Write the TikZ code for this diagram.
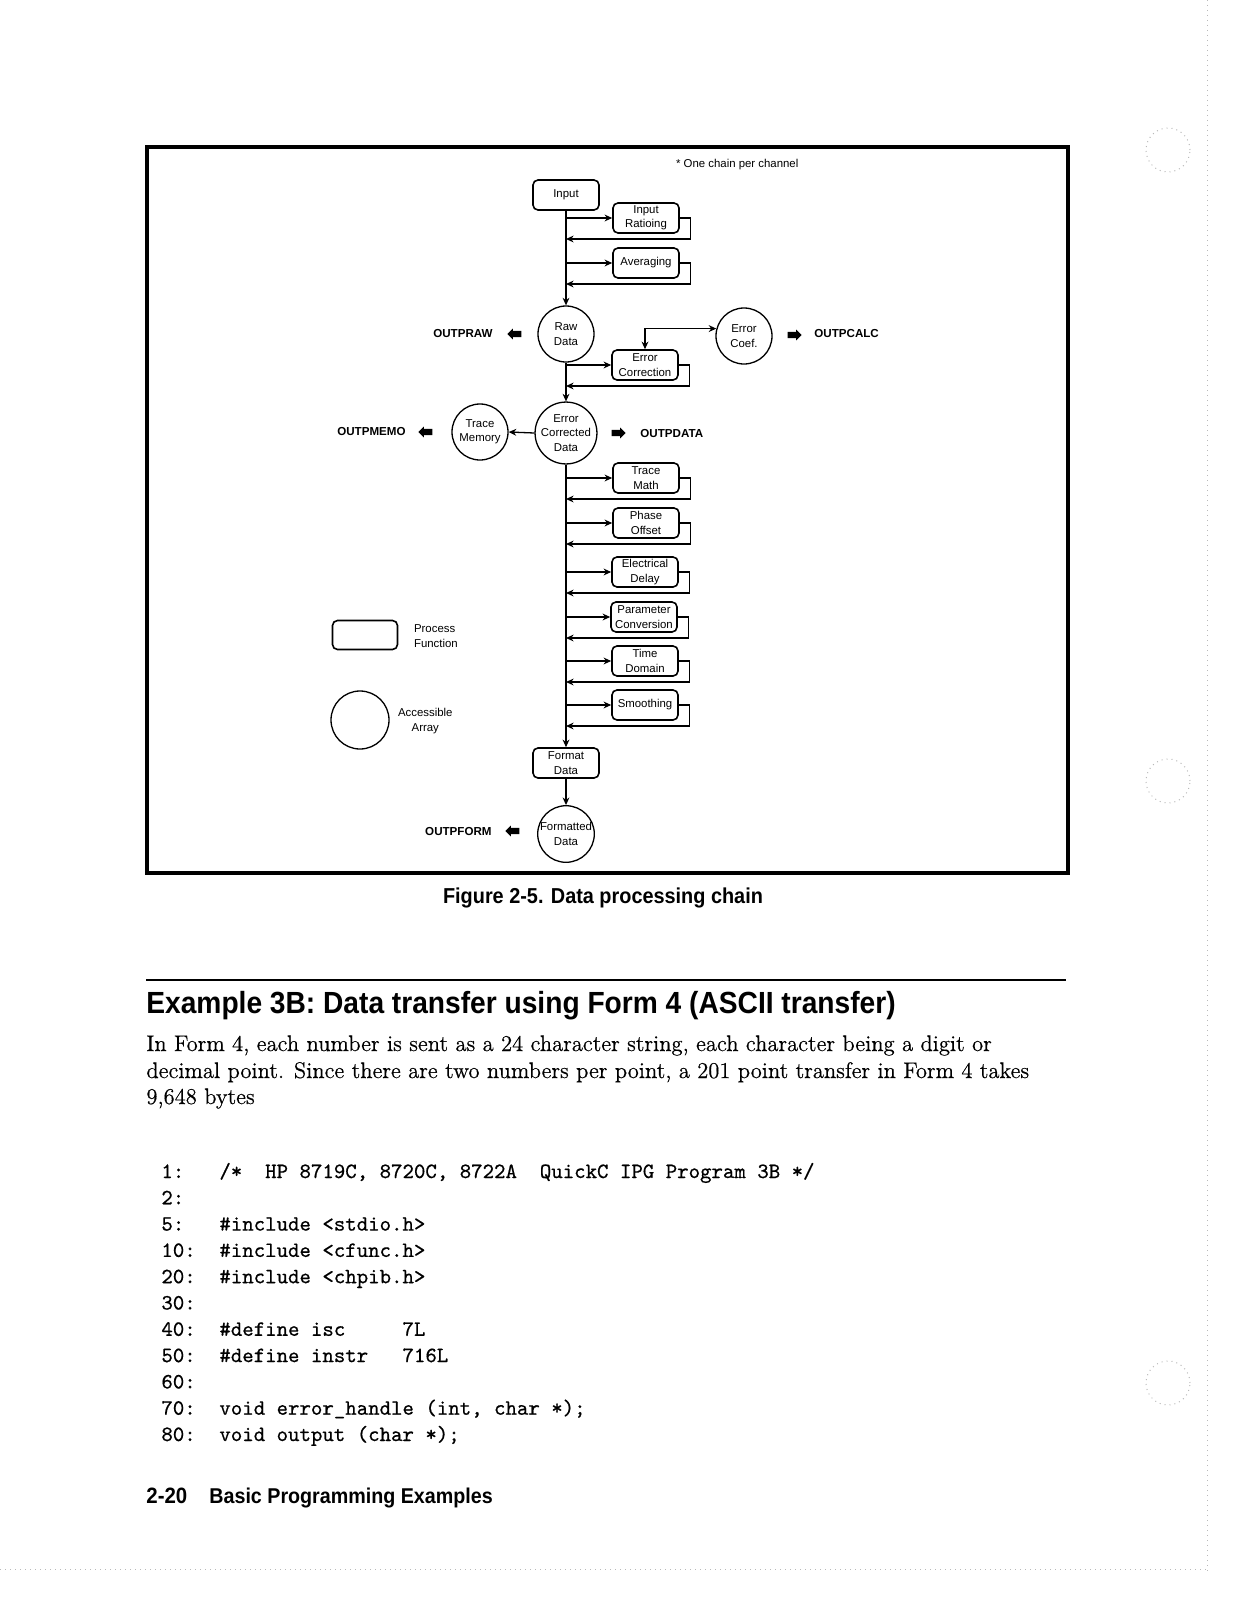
\documentclass[tikz,border=0pt]{standalone}
\usepackage{fontspec}
\newfontfamily\arial{Liberation Sans}
\newfontfamily\arialc[FakeStretch=0.92]{Liberation Sans}
\newfontfamily\romdark[FakeBold=0.5]{Latin Modern Roman}
\newfontfamily\ttdark[FakeBold=0.6]{Latin Modern Mono}
\usetikzlibrary{shapes.arrows,arrows.meta}
\begin{document}
\begin{tikzpicture}[x=0.5pt,y=-0.5pt,
  lab/.style={font=\arial\fontsize{5.7}{7.2}\selectfont, align=center},
  proc/.style={draw, rounded corners=2.5pt, minimum width=33pt, minimum height=15pt, inner sep=0pt, line width=0.8pt, lab},
  acc/.style={draw, circle, minimum size=28pt, inner sep=0pt, line width=0.65pt, lab},
  flow/.style={-{Stealth[length=3.8pt,width=3.4pt]}, line width=0.65pt},
  flowtwo/.style={{Stealth[length=3.8pt,width=3.4pt]}-{Stealth[length=3.8pt,width=3.4pt]}, line width=0.65pt},
  outl/.style={font=\arial\bfseries\fontsize{5.8}{7}\selectfont, inner sep=0pt},
  blk/.style={single arrow, fill=black, draw=none, minimum height=7pt, inner xsep=0pt, inner ysep=1.4pt, single arrow head extend=1.1pt},
  blkl/.style={blk, shape border rotate=180},
  scan/.style={gray!55, dotted, line width=0.5pt},
  codel/.style={anchor=base west, inner sep=0pt, font=\ttdark\fontsize{10.9}{13}\selectfont},
  para/.style={anchor=base west, inner sep=0pt, font=\romdark\fontsize{11.3}{13.25}\selectfont},
]
\useasboundingbox (0,0) rectangle (1237,1600);
% scan edges
\draw[scan] (1207,0) -- (1207,1572);
\draw[scan] (0,1569) -- (1207,1569);
\draw[scan] (1168,150) circle (11pt);
\draw[scan] (1168,781) circle (11pt);
\draw[scan] (1168,1383) circle (11pt);
% frame
\draw[line width=1.75pt] (147,147) rectangle (1068,873);
\node[lab, anchor=west] (note) at (669,165) {* One chain per channel};
% nodes
\node[proc] (in) at (566,195) {Input};
\node[proc] (ratio) at (646,218) {Input\\Ratioing};
\node[proc] (avg) at (646,263) {Averaging};
\node[acc] (raw) at (566,334) {Raw\\Data};
\node[acc] (coef) at (744,336) {Error\\Coef.};
\node[proc] (ecorr) at (645,365) {Error\\Correction};
\node[acc] (ecd) at (566,433) {Error\\Corrected\\Data};
\node[acc] (tmem) at (480,432) {Trace\\Memory};
\node[proc] (tmath) at (646,478) {Trace\\Math};
\node[proc] (phase) at (646,523) {Phase\\Offset};
\node[proc] (edelay) at (645,572) {Electrical\\Delay};
\node[proc] (pconv) at (644,617) {Parameter\\Conversion};
\node[proc] (tdom) at (645,661) {Time\\Domain};
\node[proc] (smooth) at (645,705) {Smoothing};
\node[proc] (fmt) at (566,763) {Format\\Data};
\node[acc] (fdata) at (566,834) {Formatted\\Data};
% main chain
\draw[flow] (in.south) -- (raw.north);
\draw[flow] (raw.south) -- (ecd.north);
\draw[flow] (ecd.south) -- (fmt.north);
\draw[flow] (fmt.south) -- (fdata.north);
% side loops
\foreach \p in {ratio,avg,ecorr,tmath,phase,edelay,pconv,tdom,smooth}{
  \draw[flow] (\p.west -| in.south) -- (\p.west);
  \draw[flow] (\p.east) -- ++(5.5pt,0) |- ([yshift=-2.6pt]\p.south -| in.south);
}
\draw[flowtwo] (ecorr.north) |- (coef.165);
\draw[flow] (ecd.west) -- (tmem.east);
% outputs
\node[outl, anchor=east] (oraw) at (493,334) {OUTPRAW};
\node[blkl] (braw) at (516,334) {};
\node[blk] (bcalc) at (793,335) {};
\node[outl, anchor=west] (ocalc) at (814,334) {OUTPCALC};
\node[outl, anchor=east] (omemo) at (406,432) {OUTPMEMO};
\node[blkl] (bmemo) at (427,432) {};
\node[blk] (bdata) at (617,433) {};
\node[outl, anchor=west] (odata) at (640,434) {OUTPDATA};
\node[outl, anchor=east] (oform) at (492,831) {OUTPFORM};
\node[blkl] (bform) at (514,831) {};
% legend
\node[proc, minimum width=32.5pt, minimum height=14.5pt] (lproc) at (365,635) {};
\node[lab, anchor=west, align=left] (lproct) at (407,636) {Process\\Function};
\node[acc, minimum size=29pt] (lacc) at (360,720) {};
\node[lab, anchor=west] (lacct) at (391,721) {Accessible\\Array};
% caption
\node[font=\arialc\bfseries\fontsize{10.8}{12}\selectfont] (cap) at (603,898) {Figure 2-5. Data processing chain};
% heading
\draw[line width=1pt] (146,980) -- (1066,980);
\node[anchor=base west, inner sep=0pt, font=\arialc\bfseries\fontsize{15.3}{17}\selectfont] (head) at (146,1013) {Example 3B: Data transfer using Form 4 (ASCII transfer)};
% paragraph
\node[para] (p1) at (146,1051) {In Form 4, each number is sent as a 24 character string, each character being a digit or};
\node[para] (p2) at (146,1078) {decimal point. Since there are two numbers per point, a 201 point transfer in Form 4 takes};
\node[para] (p3) at (146,1104) {9,648 bytes};
% code
\node[codel] (n1) at (161,1178.0) {1:};
\node[codel] (c1) at (219,1178.0) {/*\ \ HP 8719C, 8720C, 8722A\ \ QuickC IPG Program 3B */};
\node[codel] (n2) at (161,1204.3) {2:};
\node[codel] (n3) at (161,1230.6) {5:};
\node[codel] (c3) at (219,1230.6) {\#include <stdio.h>};
\node[codel] (n4) at (161,1256.9) {10:};
\node[codel] (c4) at (219,1256.9) {\#include <cfunc.h>};
\node[codel] (n5) at (161,1283.2) {20:};
\node[codel] (c5) at (219,1283.2) {\#include <chpib.h>};
\node[codel] (n6) at (161,1309.5) {30:};
\node[codel] (n7) at (161,1335.8) {40:};
\node[codel] (c7) at (219,1335.8) {\#define isc\ \ \ \ \ 7L};
\node[codel] (n8) at (161,1362.1) {50:};
\node[codel] (c8) at (219,1362.1) {\#define instr\ \ \ 716L};
\node[codel] (n9) at (161,1388.4) {60:};
\node[codel] (n10) at (161,1414.7) {70:};
\node[codel] (c10) at (219,1414.7) {void error\_handle (int, char *);};
\node[codel] (n11) at (161,1441.0) {80:};
\node[codel] (c11) at (219,1441.0) {void output (char *);};
% footer
\node[anchor=base west, inner sep=0pt, font=\arialc\bfseries\fontsize{11.1}{12}\selectfont] (fpg) at (146,1503) {2-20};
\node[anchor=base west, inner sep=0pt, font=\arialc\bfseries\fontsize{10.7}{12}\selectfont] (ftitle) at (209,1503) {Basic Programming Examples};
\end{tikzpicture}
\end{document}
